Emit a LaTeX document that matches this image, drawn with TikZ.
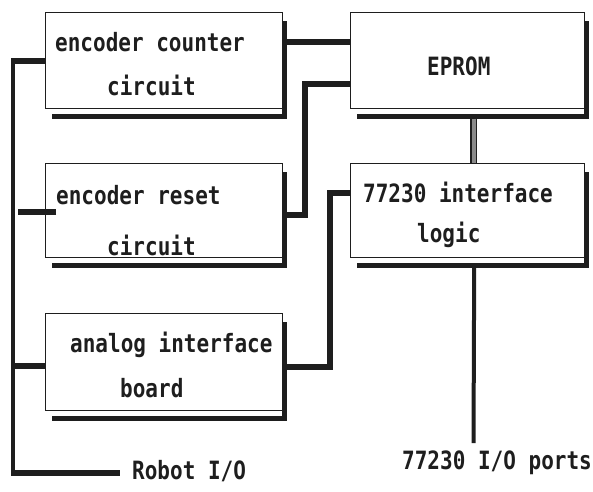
\documentclass[tikz,border=0pt]{standalone}
\usepackage{fontspec}
\newfontfamily\dvm{DejaVu Sans Mono}
\usetikzlibrary{calc}
\definecolor{ink}{HTML}{1E1E1E}
\definecolor{bargray}{HTML}{8A8A8A}
\newcommand{\tx}[1]{\scalebox{1}[1.2]{#1}}
\tikzset{
  box/.style={draw=ink, line width=1.4pt, anchor=north west, inner sep=0pt, minimum width=237pt},
  shadowbar/.style={draw=ink, line width=5pt, line join=miter},
  wire/.style={draw=ink, line width=5.5pt, line join=miter},
  bus/.style={draw=ink, line width=4pt, line join=miter},
  dbl/.style={draw=ink, line width=1.3pt, double=bargray, double distance=4pt},
  lbl/.style={anchor=west, inner sep=0pt, text=ink, font=\dvm\bfseries\fontsize{21}{25}\selectfont},
}
\begin{document}
\begin{tikzpicture}[x=1pt,y=-1pt]
\useasboundingbox (0,0) rectangle (593,491);
% boxes
\node[box, minimum height=96pt] (b1) at (45,12) {};
\node[box, minimum height=94pt] (b2) at (45,163) {};
\node[box, minimum height=97pt] (b3) at (45,313) {};
\node[box, minimum height=96pt, minimum width=234pt] (eprom) at (350,12) {};
\node[box, minimum height=94pt, minimum width=234pt] (logic) at (350,163) {};
% shadows
\foreach \b in {b1,b2,b3,eprom,logic}{
  \draw[shadowbar] ($(\b.north east)+(0.8,9)$) |- ($(\b.south west)+(7,7)$);
}
% labels
\node[lbl] (t1a) at (55,42) {\tx{encoder counter}};
\node[lbl] (t1b) at (107,85) {\tx{circuit}};
\node[lbl] (t2a) at (56,195) {\tx{encoder reset}};
\node[lbl] (t2b) at (107,245) {\tx{circuit}};
\node[lbl] (t3a) at (70,345) {\tx{analog interface}};
\node[lbl] (t3b) at (120,388) {\tx{board}};
\node[lbl] (t4) at (427,66) {\tx{EPROM}};
\node[lbl] (t5a) at (363,192) {\tx{77230 interface}};
\node[lbl] (t5b) at (417,235) {\tx{logic}};
\node[lbl] (robot) at (132,471) {\tx{Robot I/O}};
\node[lbl] (ports) at (402,463) {\tx{77230 I/O ports}};
% left bus
\coordinate (busTop) at (13,61);
\coordinate (busBot) at (13,473);
\coordinate (robotEnd) at (120,473);
\draw[bus] (busTop) -- (busBot);
\draw[wire] ($(b1.north west)+(0,49)$) -- ($(busTop)+(-2,0)$);
\draw[wire] ($(b2.north west)+(11,49)$) coordinate (s2) -- ($(busTop |- s2)+(5,0)$);
\draw[wire] ($(b3.north west)+(0,53)$) coordinate (s3) -- (busTop |- s3);
\draw[wire] ($(busBot)+(-2,0)$) -- (robotEnd);
% right side connectors
\draw[wire] ($(b1.north east)+(3,30)$) -- ($(eprom.north west)+(0,30)$);
\draw[wire] ($(b2.north east)+(3,52)$) -| ($(eprom.north west)+(-45,72)$) -- ($(eprom.north west)+(0,72)$);
\draw[wire] ($(b3.north east)+(3,54)$) -| ($(logic.north west)+(-20,30)$) -- ($(logic.north west)+(0,30)$);
\draw[dbl] ($(eprom.south)+(6,9.5)$) -- ($(logic.north)+(6,0)$);
\coordinate (portsEnd) at (473.5,443);
\draw[bus] ($(logic.south)+(6.5,9.5)$) -- (portsEnd);
\end{tikzpicture}
\end{document}
